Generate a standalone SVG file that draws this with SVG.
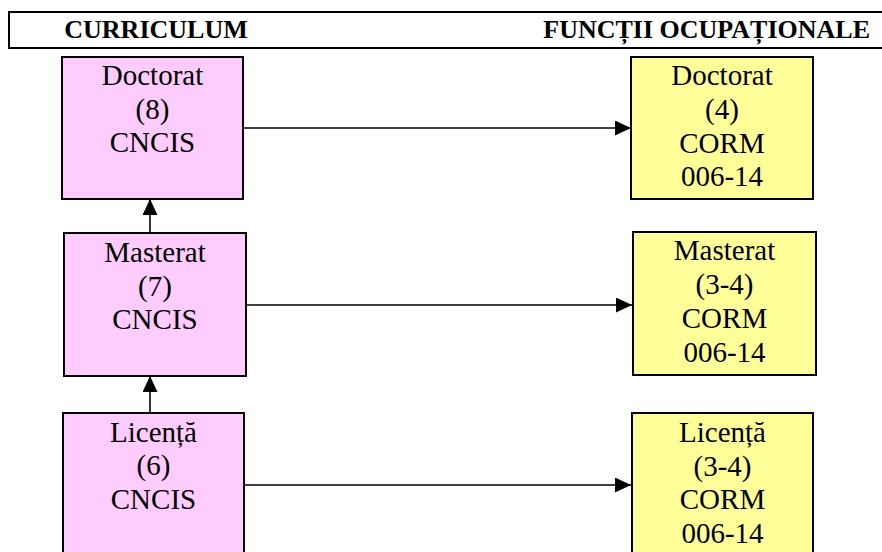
<svg xmlns="http://www.w3.org/2000/svg" width="882" height="552" viewBox="0 0 882 552">
<style>
.hdr{font-family:'Liberation Serif',serif;font-weight:bold;font-size:26px;fill:#000}
.t{font-family:'Liberation Serif',serif;font-weight:normal;font-style:normal;font-size:29px;fill:#000;text-anchor:middle}
.pink{fill:#FFCCFF;stroke:#000;stroke-width:2}
.yel{fill:#FFFF99;stroke:#000;stroke-width:2}
.c{stroke:#000;stroke-width:1.6;fill:none;marker-end:url(#ah)}
</style>
<defs>
<marker id="ah" markerUnits="userSpaceOnUse" markerWidth="16" markerHeight="15" refX="16" refY="7.5" orient="auto">
<path d="M0,0 L16,7.5 L0,15 z" fill="#000"/>
</marker>
</defs>
<rect width="882" height="552" fill="#fff"/>
<g id="header">
<rect x="9" y="12" width="890" height="36" fill="#fff" stroke="#000" stroke-width="2"/>
<text class="hdr" x="156" y="38" text-anchor="middle">CURRICULUM</text>
<text class="hdr" x="870" y="38" text-anchor="end">FUNCȚII OCUPAȚIONALE</text>
</g>
<g id="connectors">
<line class="c" x1="243" y1="128" x2="631" y2="128"/>
<line class="c" x1="246" y1="305" x2="632" y2="305"/>
<line class="c" x1="244" y1="485" x2="631" y2="485"/>
<line class="c" x1="150" y1="233" x2="150" y2="199"/>
<line class="c" x1="150" y1="413" x2="150" y2="376"/>
</g>
<g id="cur-doctorat">
<rect class="pink" x="62" y="57" width="181" height="142"/>
<text class="t" font-family="Liberation Serif" x="152.5" y="85">Doctorat</text>
<text class="t" font-family="Liberation Serif" x="152.5" y="118.5">(8)</text>
<text class="t" font-family="Liberation Serif" x="152.5" y="152">CNCIS</text>
</g>
<g id="cur-masterat">
<rect class="pink" x="64" y="233" width="182" height="143"/>
<text class="t" x="155" y="262">Masterat</text>
<text class="t" x="155" y="295.5">(7)</text>
<text class="t" x="155" y="329">CNCIS</text>
</g>
<g id="cur-licenta">
<rect class="pink" x="63" y="413" width="181" height="150"/>
<text class="t" x="153.5" y="441.5">Licență</text>
<text class="t" x="153.5" y="475">(6)</text>
<text class="t" x="153.5" y="508.5">CNCIS</text>
</g>
<g id="ocu-doctorat">
<rect class="yel" x="631" y="57" width="182" height="142"/>
<text class="t" x="722" y="85">Doctorat</text>
<text class="t" x="722" y="118.5">(4)</text>
<text class="t" x="722" y="152.5">CORM</text>
<text class="t" x="722" y="186">006-14</text>
</g>
<g id="ocu-masterat">
<rect class="yel" x="633" y="232" width="183" height="143"/>
<text class="t" x="724.5" y="260">Masterat</text>
<text class="t" x="724.5" y="294">(3-4)</text>
<text class="t" x="724.5" y="328">CORM</text>
<text class="t" x="724.5" y="362">006-14</text>
</g>
<g id="ocu-licenta">
<rect class="yel" x="632" y="413" width="181" height="150"/>
<text class="t" x="722.5" y="441.5">Licență</text>
<text class="t" x="722.5" y="475.5">(3-4)</text>
<text class="t" x="722.5" y="509">CORM</text>
<text class="t" x="722.5" y="543">006-14</text>
</g>
</svg>
